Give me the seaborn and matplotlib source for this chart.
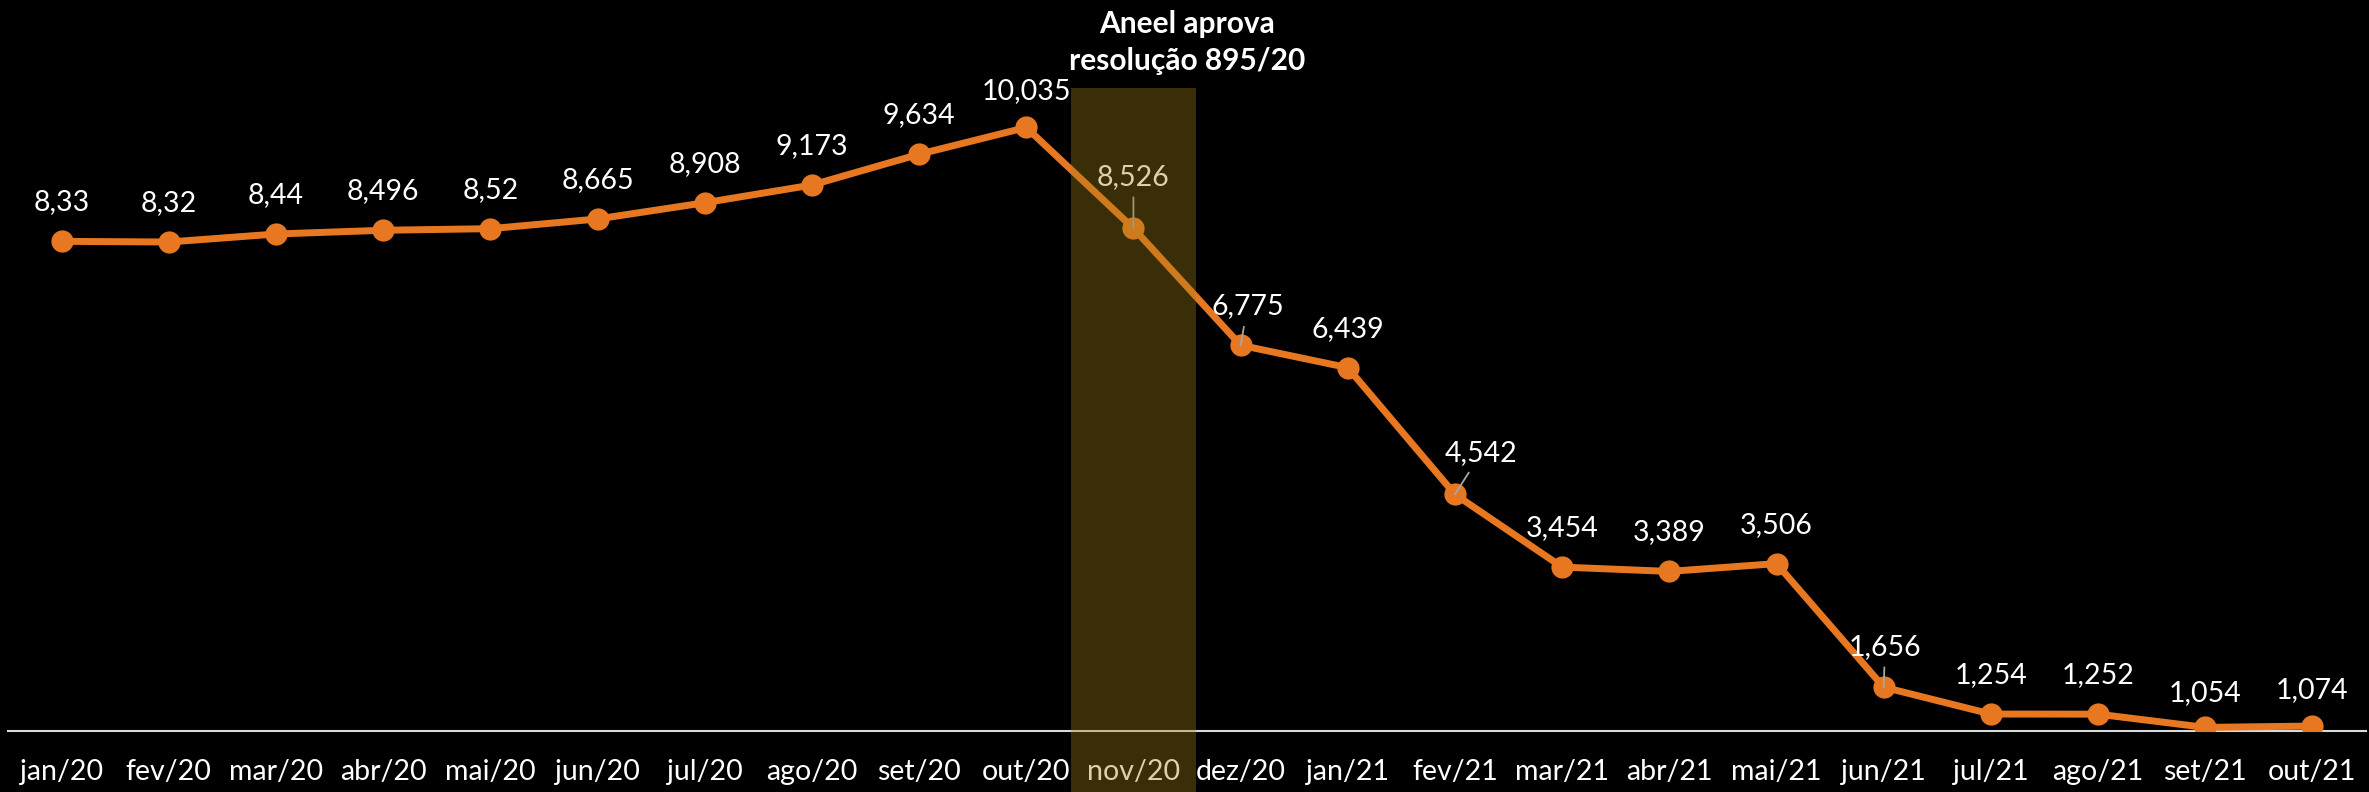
import matplotlib
matplotlib.use("Agg")
import matplotlib.pyplot as plt
import numpy as np
import pandas as pd
import seaborn as sns

# dados do gráfico
meses = ["jan/20", "fev/20", "mar/20", "abr/20", "mai/20", "jun/20", "jul/20",
         "ago/20", "set/20", "out/20", "nov/20", "dez/20", "jan/21", "fev/21",
         "mar/21", "abr/21", "mai/21", "jun/21", "jul/21", "ago/21", "set/21",
         "out/21"]
valores = [8.33, 8.32, 8.44, 8.496, 8.52, 8.665, 8.908, 9.173, 9.634, 10.035,
           8.526, 6.775, 6.439, 4.542, 3.454, 3.389, 3.506, 1.656, 1.254,
           1.252, 1.054, 1.074]
mes_destaque = "nov/20"
texto_destaque = "Aneel aprova\nresolução 895/20"

LARANJA = "#E87722"
FUNDO = "#000000"
EIXO = "#D9D9D9"
FAIXA = "#A08016"

# deslocamento dos rótulos (pontos) e quais têm linha de chamada
offsets = {"out/20": (0, 26), "nov/20": (0, 37), "dez/20": (5, 28),
           "fev/21": (19, 30), "jun/21": (1, 29), "set/21": (0, 25),
           "out/21": (0, 26)}
com_linha = ["nov/20", "dez/20", "fev/21", "jun/21"]

sns.set_style("dark", {"axes.facecolor": FUNDO, "figure.facecolor": FUNDO})
plt.rcParams["font.family"] = ["Lato", "DejaVu Sans"]

df = pd.DataFrame({"pos": np.arange(len(meses)), "mes": meses, "valor": valores})

fig = plt.figure(figsize=(23.69, 7.92), dpi=100, facecolor=FUNDO)
ax = fig.add_axes([8 / 2369, 61 / 792, 2358 / 2369, 668 / 792])
ax.set_facecolor(FUNDO)

sns.lineplot(data=df, x="pos", y="valor", ax=ax, color=LARANJA, linewidth=5,
             marker="o", markersize=16, markeredgewidth=0, zorder=3)

for _, row in df.iterrows():
    rotulo = f"{row['valor']:g}".replace(".", ",")
    dx, dy = offsets.get(row["mes"], (0, 28))
    seta = None
    if row["mes"] in com_linha:
        seta = dict(arrowstyle="-", color="#A6A6A6", lw=1.3, shrinkA=3, shrinkB=0)
    ax.annotate(rotulo, xy=(row["pos"], row["valor"]), xytext=(dx, dy),
                textcoords="offset points", ha="center", va="center",
                fontsize=20.5, color="white", arrowprops=seta, zorder=4)

# faixa de destaque
i = meses.index(mes_destaque)
ax.axvspan(i - 0.58, i + 0.58, ymin=-0.0913, ymax=0.9626, color=FAIXA,
           alpha=0.36, lw=0, clip_on=False, zorder=5)
ax.text(i + 0.5, 1.031, texto_destaque, transform=ax.get_xaxis_transform(),
        ha="center", va="center", fontsize=21.5, fontweight="bold",
        color="white", linespacing=1.4)

ax.set_xlim(-0.5, len(meses) - 0.5)
ax.set_ylim(1, 11)
ax.set_xticks(df["pos"])
ax.set_xticklabels(meses, fontsize=20.5, color="white")
ax.set_xticks(np.arange(len(meses) + 1) - 0.5, minor=True)
ax.tick_params(axis="x", which="major", length=0, pad=20)
ax.tick_params(axis="x", which="minor", length=6, width=1.5, color=EIXO,
               direction="out")
ax.set_yticks([])
ax.set_xlabel("")
ax.set_ylabel("")
ax.grid(False)
for lado in ["top", "left", "right"]:
    ax.spines[lado].set_visible(False)
ax.spines["bottom"].set_color(EIXO)
ax.spines["bottom"].set_linewidth(1.5)

fig.savefig("out.png", dpi=100, facecolor=FUNDO)
